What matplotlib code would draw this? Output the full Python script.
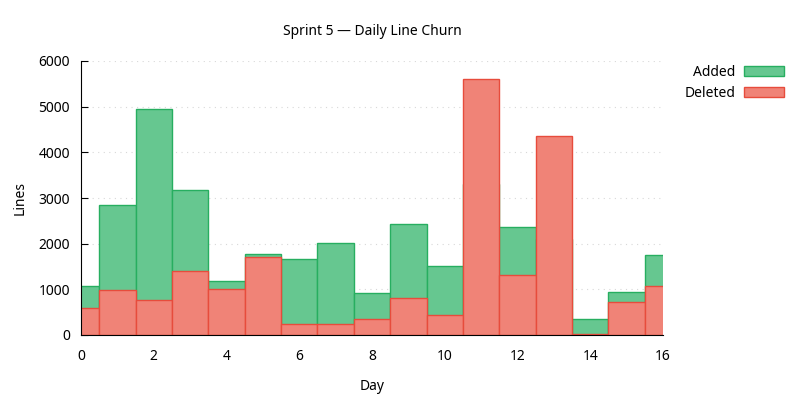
import numpy as np
import matplotlib
matplotlib.use("Agg")
import matplotlib.pyplot as plt
from matplotlib.patches import Patch

plt.rcParams['font.family'] = ['Noto Sans', 'DejaVu Sans']

days = np.arange(0, 17)
added = [1070, 2840, 4940, 3170, 1180, 1775, 1660, 2015, 915,
         2430, 1505, 3300, 2360, 2100, 345, 935, 1745]
deleted = [590, 985, 760, 1400, 1005, 1710, 235, 235, 345,
           810, 430, 5600, 1305, 4350, 15, 715, 1065]

green_fill, green_edge = "#66c790", "#27ae60"
red_fill, red_edge = "#f08377", "#e74c3c"

fig = plt.figure(figsize=(8, 4), dpi=100)
ax = fig.add_axes([0.10125, 0.1625, 0.7275, 0.685])

ax.bar(days, added, width=1.0, color=green_fill, edgecolor=green_edge,
       linewidth=1.0, zorder=2, label="Added")
ax.bar(days, deleted, width=1.0, color=red_fill, edgecolor=red_edge,
       linewidth=1.0, zorder=3, label="Deleted")

ax.set_xlim(0, 16)
ax.set_ylim(0, 6000)
ax.set_xticks(range(0, 17, 2))
ax.set_yticks(range(0, 6001, 1000))
ax.yaxis.grid(True, linestyle=(0, (1, 4)), color="#d8d8d8", linewidth=0.8, zorder=0)
ax.set_axisbelow(True)

for s in ("top", "right"):
    ax.spines[s].set_visible(False)
ax.spines["left"].set_zorder(5)
ax.spines["bottom"].set_zorder(5)
ax.tick_params(axis="y", direction="in", length=5, labelsize=10, pad=8)
ax.tick_params(axis="x", length=0, labelsize=10, pad=10)

ax.set_xlabel("Day", fontsize=10, labelpad=11)
ax.set_ylabel("Lines", fontsize=10, labelpad=8)
fig.text(0.465, 0.922, "Sprint 5 \u2014 Daily Line Churn", ha="center", va="center", fontsize=10)

handles = [Patch(facecolor=green_fill, edgecolor=green_edge, label="Added"),
           Patch(facecolor=red_fill, edgecolor=red_edge, label="Deleted")]
fig.legend(handles=handles, loc="upper right", bbox_to_anchor=(0.996, 0.87),
           markerfirst=False, frameon=False, fontsize=10,
           handlelength=2.9, handleheight=0.75, handletextpad=0.6, labelspacing=0.45)

fig.savefig("out.png", dpi=100)
